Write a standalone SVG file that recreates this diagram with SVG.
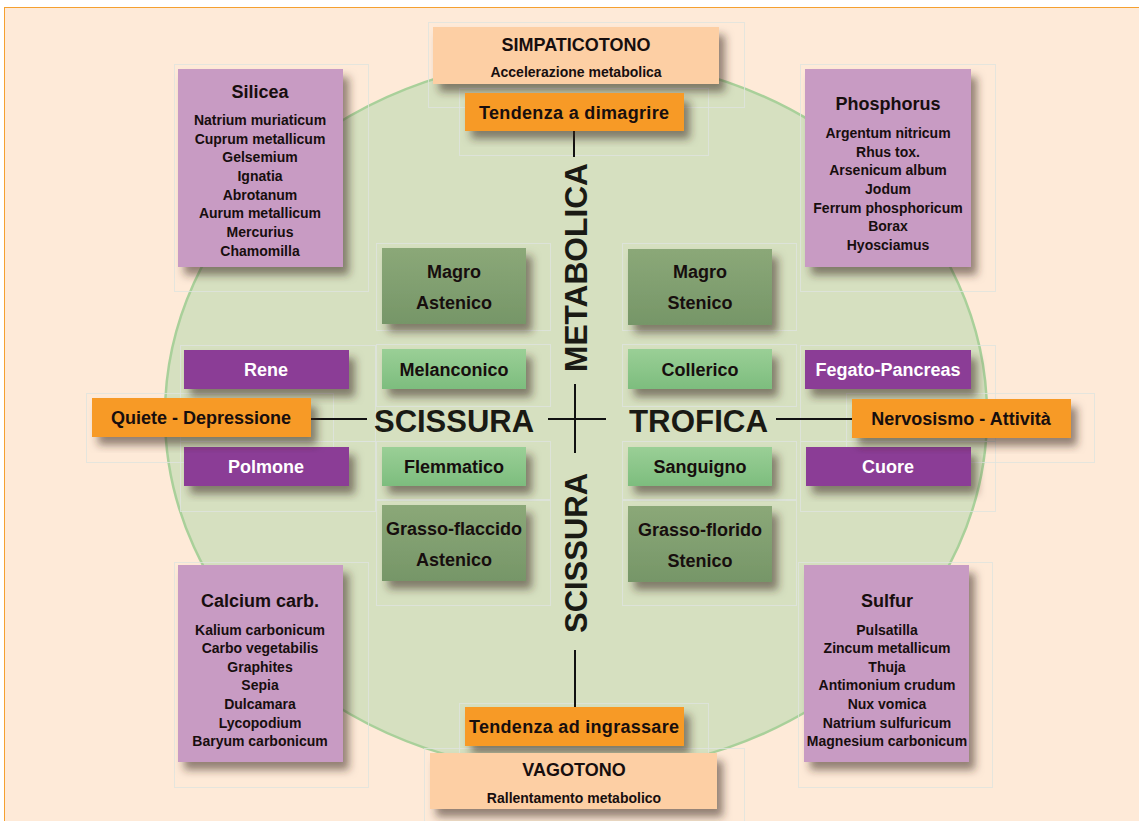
<svg xmlns="http://www.w3.org/2000/svg" width="1139" height="821" viewBox="0 0 1139 821">
<defs>
<filter id="sh" x="-20%" y="-20%" width="150%" height="160%">
<feDropShadow dx="6" dy="8" stdDeviation="4.5" flood-color="#3a2a20" flood-opacity="0.55"/>
</filter>
<linearGradient id="gDark" x1="0" y1="0" x2="0" y2="1">
<stop offset="0" stop-color="#8BA878"/>
<stop offset="1" stop-color="#769668"/>
</linearGradient>
<linearGradient id="gLight" x1="0" y1="0" x2="0" y2="1">
<stop offset="0" stop-color="#9ACF96"/>
<stop offset="1" stop-color="#7DBD7E"/>
</linearGradient>
</defs>
<style>
text{font-family:"Liberation Sans",Arial,sans-serif;font-weight:bold;text-anchor:middle;fill:#170e0e}
.t18{font-size:18px}
.t14{font-size:14px}
.big{font-size:31.5px;fill:#1a1a14}
.w{fill:#ffffff}
.frame{fill:none;stroke:#dfe4de;stroke-width:1;opacity:0.8}
.lilac{fill:#C89BC3}
.purple{fill:#8B3C96}
.orange{fill:#F79A28}
.peach{fill:#FDCFA4}
.dark{fill:url(#gDark)}
.light{fill:url(#gLight)}
.ln{stroke:#111;stroke-width:2;fill:none}
</style>
<rect x="0" y="0" width="1139" height="821" fill="#ffffff"/>
<rect x="4.5" y="7.5" width="1150" height="830" fill="#FEEAD8" stroke="#F5A030" stroke-width="1"/>
<ellipse cx="576" cy="415" rx="411" ry="358" fill="#D6E0C0" stroke="#A9D09A" stroke-width="2.5"/>

<g id="frames">
<rect class="frame" x="428.5" y="22.5" width="316" height="85"/>
<rect class="frame" x="459.5" y="88.5" width="249" height="67"/>
<rect class="frame" x="174.5" y="64.5" width="194" height="227"/>
<rect class="frame" x="800.5" y="64.5" width="195" height="227"/>
<rect class="frame" x="376.5" y="243.5" width="174" height="87"/>
<rect class="frame" x="622.5" y="243.5" width="174" height="87"/>
<rect class="frame" x="376.5" y="344.5" width="174" height="62"/>
<rect class="frame" x="622.5" y="344.5" width="174" height="62"/>
<rect class="frame" x="376.5" y="441.5" width="174" height="58"/>
<rect class="frame" x="622.5" y="441.5" width="174" height="58"/>
<rect class="frame" x="376.5" y="500.5" width="174" height="105"/>
<rect class="frame" x="622.5" y="500.5" width="174" height="105"/>
<rect class="frame" x="180.5" y="345.5" width="195" height="96"/>
<rect class="frame" x="180.5" y="441.5" width="195" height="70"/>
<rect class="frame" x="800.5" y="345.5" width="195" height="96"/>
<rect class="frame" x="800.5" y="441.5" width="195" height="70"/>
<rect class="frame" x="86.5" y="393.5" width="247" height="69"/>
<rect class="frame" x="846.5" y="393.5" width="248" height="69"/>
<rect class="frame" x="174.5" y="562.5" width="194" height="225"/>
<rect class="frame" x="798.5" y="562.5" width="194" height="225"/>
<rect class="frame" x="459.5" y="703.5" width="249" height="60"/>
<rect class="frame" x="424.5" y="748.5" width="320" height="80"/>
</g>

<g id="connectors">
<line class="ln" x1="574" y1="131" x2="574" y2="157"/>
<line class="ln" x1="575" y1="650" x2="575" y2="707"/>
<line class="ln" x1="310" y1="419" x2="367" y2="419"/>
<line class="ln" x1="776" y1="419" x2="852" y2="419"/>
<line class="ln" x1="548" y1="419" x2="606" y2="419"/>
<line class="ln" x1="575" y1="384" x2="575" y2="453"/>
</g>

<g id="axis-labels">
<text class="big" x="454" y="432" textLength="160" lengthAdjust="spacingAndGlyphs">SCISSURA</text>
<text class="big" x="698.5" y="432" textLength="139" lengthAdjust="spacingAndGlyphs">TROFICA</text>
<text class="big" transform="translate(587 267.5) rotate(-90)" x="0" y="0" textLength="209" lengthAdjust="spacingAndGlyphs">METABOLICA</text>
<text class="big" transform="translate(587 553) rotate(-90)" x="0" y="0" textLength="160" lengthAdjust="spacingAndGlyphs">SCISSURA</text>
</g>

<g id="simpaticotono">
<rect class="peach" x="433" y="27" width="286" height="57" filter="url(#sh)"/>
<text class="t18" x="576" y="51">SIMPATICOTONO</text>
<text class="t14" x="576" y="77">Accelerazione metabolica</text>
</g>
<g id="dimagrire">
<rect class="orange" x="465" y="93" width="219" height="38" filter="url(#sh)"/>
<text class="t18" x="574" y="119" textLength="190">Tendenza a dimagrire</text>
</g>
<g id="ingrassare">
<rect class="orange" x="465" y="707" width="219" height="39" filter="url(#sh)"/>
<text class="t18" x="574" y="733" textLength="210">Tendenza ad ingrassare</text>
</g>
<g id="vagotono">
<rect class="peach" x="430" y="753" width="287" height="56" filter="url(#sh)"/>
<text class="t18" x="574" y="776">VAGOTONO</text>
<text class="t14" x="574" y="803">Rallentamento metabolico</text>
</g>

<g id="silicea">
<rect class="lilac" x="178" y="69" width="165" height="198" filter="url(#sh)"/>
<text class="t18" x="260" y="98">Silicea</text>
<text class="t14" x="260" y="125">Natrium muriaticum</text>
<text class="t14" x="260" y="143.6">Cuprum metallicum</text>
<text class="t14" x="260" y="162.3">Gelsemium</text>
<text class="t14" x="260" y="181">Ignatia</text>
<text class="t14" x="260" y="199.6">Abrotanum</text>
<text class="t14" x="260" y="218.3">Aurum metallicum</text>
<text class="t14" x="260" y="237">Mercurius</text>
<text class="t14" x="260" y="255.6">Chamomilla</text>
</g>

<g id="phosphorus">
<rect class="lilac" x="805" y="69" width="166" height="198" filter="url(#sh)"/>
<text class="t18" x="888" y="110">Phosphorus</text>
<text class="t14" x="888" y="138">Argentum nitricum</text>
<text class="t14" x="888" y="156.6">Rhus tox.</text>
<text class="t14" x="888" y="175.3">Arsenicum album</text>
<text class="t14" x="888" y="194">Jodum</text>
<text class="t14" x="888" y="212.6">Ferrum phosphoricum</text>
<text class="t14" x="888" y="231.3">Borax</text>
<text class="t14" x="888" y="250">Hyosciamus</text>
</g>

<g id="calcium">
<rect class="lilac" x="178" y="565" width="165" height="197" filter="url(#sh)"/>
<text class="t18" x="260" y="607">Calcium carb.</text>
<text class="t14" x="260" y="634.5">Kalium carbonicum</text>
<text class="t14" x="260" y="653">Carbo vegetabilis</text>
<text class="t14" x="260" y="671.7">Graphites</text>
<text class="t14" x="260" y="690.3">Sepia</text>
<text class="t14" x="260" y="709">Dulcamara</text>
<text class="t14" x="260" y="727.7">Lycopodium</text>
<text class="t14" x="260" y="746.3">Baryum carbonicum</text>
</g>

<g id="sulfur">
<rect class="lilac" x="804" y="565" width="165" height="197" filter="url(#sh)"/>
<text class="t18" x="887" y="607">Sulfur</text>
<text class="t14" x="887" y="634.5">Pulsatilla</text>
<text class="t14" x="887" y="653">Zincum metallicum</text>
<text class="t14" x="887" y="671.7">Thuja</text>
<text class="t14" x="887" y="690.3">Antimonium crudum</text>
<text class="t14" x="887" y="709">Nux vomica</text>
<text class="t14" x="887" y="727.7">Natrium sulfuricum</text>
<text class="t14" x="887" y="746.3">Magnesium carbonicum</text>
</g>

<g id="rene">
<rect class="purple" x="184" y="350" width="165" height="39" filter="url(#sh)"/>
<text class="t18 w" x="266" y="376">Rene</text>
</g>
<g id="polmone">
<rect class="purple" x="184" y="447" width="165" height="39" filter="url(#sh)"/>
<text class="t18 w" x="266" y="473">Polmone</text>
</g>
<g id="quiete">
<rect class="orange" x="92" y="398" width="219" height="39" filter="url(#sh)"/>
<text class="t18" x="201" y="424">Quiete - Depressione</text>
</g>
<g id="fegato">
<rect class="purple" x="805" y="350" width="166" height="39" filter="url(#sh)"/>
<text class="t18 w" x="888" y="376">Fegato-Pancreas</text>
</g>
<g id="cuore">
<rect class="purple" x="806" y="447" width="165" height="39" filter="url(#sh)"/>
<text class="t18 w" x="888" y="473">Cuore</text>
</g>
<g id="nervosismo">
<rect class="orange" x="852" y="399" width="219" height="39" filter="url(#sh)"/>
<text class="t18" x="961" y="425">Nervosismo - Attività</text>
</g>

<g id="magro-astenico">
<rect class="dark" x="382" y="248" width="144" height="76" filter="url(#sh)"/>
<text class="t18" x="454" y="278">Magro</text>
<text class="t18" x="454" y="309">Astenico</text>
</g>
<g id="magro-stenico">
<rect class="dark" x="628" y="249" width="144" height="76" filter="url(#sh)"/>
<text class="t18" x="700" y="278">Magro</text>
<text class="t18" x="700" y="309">Stenico</text>
</g>
<g id="melanconico">
<rect class="light" x="382" y="349" width="144" height="40" filter="url(#sh)"/>
<text class="t18" x="454" y="376">Melanconico</text>
</g>
<g id="collerico">
<rect class="light" x="628" y="349" width="144" height="40" filter="url(#sh)"/>
<text class="t18" x="700" y="376">Collerico</text>
</g>
<g id="flemmatico">
<rect class="light" x="382" y="447" width="144" height="39" filter="url(#sh)"/>
<text class="t18" x="454" y="473">Flemmatico</text>
</g>
<g id="sanguigno">
<rect class="light" x="628" y="447" width="144" height="39" filter="url(#sh)"/>
<text class="t18" x="700" y="473">Sanguigno</text>
</g>
<g id="grasso-flaccido">
<rect class="dark" x="382" y="505" width="144" height="76" filter="url(#sh)"/>
<text class="t18" x="454" y="535">Grasso-flaccido</text>
<text class="t18" x="454" y="566">Astenico</text>
</g>
<g id="grasso-florido">
<rect class="dark" x="628" y="506" width="144" height="76" filter="url(#sh)"/>
<text class="t18" x="700" y="536">Grasso-florido</text>
<text class="t18" x="700" y="567">Stenico</text>
</g>
</svg>
